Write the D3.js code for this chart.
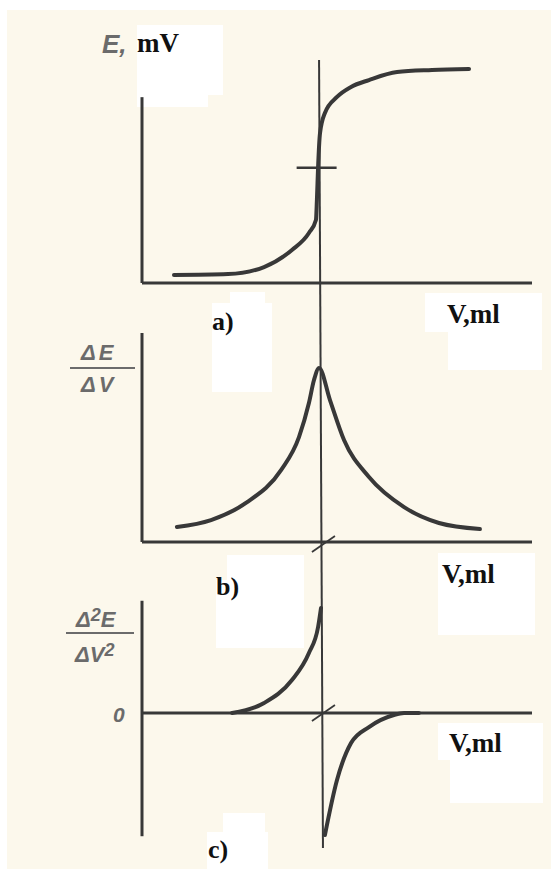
<!DOCTYPE html>
<html>
<head>
<meta charset="utf-8">
<script src="https://cdn.jsdelivr.net/npm/d3@7"></script>
<style>
  html, body { margin: 0; padding: 0; background: #ffffff; }
  svg { display: block; }
</style>
</head>
<body>
<svg id="chart" width="551" height="869"></svg>
<script>
// Titration curves: volume of titrant (ml) against potential and its derivatives.

// a) potential E (mV) versus added volume V (ml)
const volA = [1.64, 4.41, 6.26, 7.69, 8.56, 8.92, 8.97, 9.03, 9.13, 9.38, 10.0, 10.72, 11.64, 13.08, 14.87, 16.77];
const potA = [4.3, 4.8, 8.6, 17.8, 26.9, 33.9, 44.7, 62.4, 80.7, 91.5, 100.1, 105.5, 109.2, 113.5, 114.6, 115.2];

// b) first derivative dE/dV
const volB = [1.79, 3.54, 5.33, 7.13, 8.05, 8.56, 8.82, 9.08, 9.64, 10.36, 11.64, 13.44, 15.23, 17.33];
const derB = [7.2, 10.5, 18.7, 34.4, 50.2, 66.5, 77.5, 83.3, 67.9, 48.8, 31.1, 16.7, 9.1, 6.2];

// c) second derivative, two branches on each side of the end point
const volC1 = [4.62, 6.26, 7.69, 8.56, 9.03, 9.18];
const derC1 = [0, 8.2, 27.0, 49.2, 70.5, 86.1];
const volC2 = [9.38, 10.0, 10.72, 11.64, 12.92, 13.44, 14.2];
const derC2 = [-100, -54.9, -24.6, -11.5, -1.6, 0, 0];

// equivalence point and the inflection mark on curve a
const eqVolTop = 9.08, eqVolBottom = 9.28;
const inflectionE = 62;

// axis texts
const yLabelsA = ["E,", "mV"];
const yLabelB = ["ΔE", "ΔV"];
const yLabelC = ["Δ", "2", "E", "ΔV", "2"];
const xLabel = "V,ml";
const panelTags = ["a)", "b)", "c)"];
const zeroLabel = "0";

const svg = d3.select("#chart");
const ink = "#383838";
const grey = "#6b6b6b";

// paper
svg.append("rect").attr("x", 7).attr("y", 10).attr("width", 544).attr("height", 859).attr("fill", "#fcf8ec");

// shared horizontal scale (ml)
const x = d3.scaleLinear().domain([0, 20]).range([142, 532]);

// vertical scales of the three panels
const yA = d3.scaleLinear().domain([0, 120]).range([283, 60]);
const yB = d3.scaleLinear().domain([0, 100]).range([542, 333]);
const yC = d3.scaleLinear().domain([-100, 100]).range([835, 591]);

// white label patches
const patches = [
  [137, 25, 86, 70], [137, 25, 71, 82],
  [230, 292, 35, 12], [212, 303, 60, 89],
  [425, 293, 117, 39], [448, 293, 94, 77],
  [227, 555, 77, 25], [216, 580, 88, 68],
  [438, 553, 97, 82],
  [438, 723, 105, 37], [450, 723, 93, 80],
  [223, 813, 42, 56], [207, 832, 61, 37]
];
svg.append("g").selectAll("rect").data(patches).join("rect")
  .attr("x", d => d[0]).attr("y", d => d[1])
  .attr("width", d => d[2]).attr("height", d => d[3])
  .attr("fill", "#ffffff");

function axes(yScale, yMin, yMax, yBase) {
  const g = svg.append("g").attr("stroke", ink).attr("stroke-width", 3).attr("fill", "none");
  g.append("line").attr("x1", x(0)).attr("x2", x(0)).attr("y1", yScale(yMin)).attr("y2", yScale(yMax));
  g.append("line").attr("x1", x(0)).attr("x2", x(20)).attr("y1", yScale(yBase)).attr("y2", yScale(yBase));
}
axes(yA, 0, 100, 0);
axes(yB, 0, 100, 0);
axes(yC, -101, 92, 0);

// equivalence-point vertical line through all panels
svg.append("line")
  .attr("x1", x(eqVolTop)).attr("y1", yA(120))
  .attr("x2", x(eqVolBottom)).attr("y2", 848)
  .attr("stroke", ink).attr("stroke-width", 2);

// inflection mark on curve a
svg.append("line")
  .attr("x1", x(eqVolTop - 1.15)).attr("x2", x(eqVolTop + 0.9))
  .attr("y1", yA(inflectionE)).attr("y2", yA(inflectionE))
  .attr("stroke", ink).attr("stroke-width", 2.5);

// small slashes where the end point crosses the V axis
function slash(yScale, yVal) {
  const cx = x(eqVolTop + 0.2), cy = yScale(yVal);
  svg.append("line")
    .attr("x1", cx - 11).attr("y1", cy + 8).attr("x2", cx + 12).attr("y2", cy - 8)
    .attr("stroke", ink).attr("stroke-width", 1.8);
}
slash(yB, -1);
slash(yC, 0);

function curve(vols, vals, yScale) {
  const pts = vols.map((v, i) => [v, vals[i]]);
  svg.append("path")
    .datum(pts)
    .attr("d", d3.line().x(d => x(d[0])).y(d => yScale(d[1])).curve(d3.curveMonotoneX))
    .attr("fill", "none").attr("stroke", ink).attr("stroke-width", 4)
    .attr("stroke-linecap", "round").attr("stroke-linejoin", "round");
}
curve(volA, potA, yA);
curve(volB, derB, yB);
curve(volC1, derC1, yC);
curve(volC2, derC2, yC);

// texts
const serif = "'Liberation Serif', 'Times New Roman', serif";
const sans = "'Liberation Sans', Arial, sans-serif";

function boldText(t, px, py, size) {
  svg.append("text").attr("x", px).attr("y", py).text(t)
    .attr("font-family", serif).attr("font-weight", "bold")
    .attr("font-size", size).attr("fill", "#111");
}
function italicText(px, py, size) {
  return svg.append("text").attr("x", px).attr("y", py)
    .attr("font-family", sans).attr("font-style", "italic").attr("font-weight", "bold")
    .attr("font-size", size).attr("fill", grey);
}

italicText(102, 53, 26).text(yLabelsA[0]);
boldText(yLabelsA[1], 137, 52, 27);

boldText(panelTags[0], 212, 330, 26);
boldText(panelTags[1], 216, 595, 26);
boldText(panelTags[2], 208, 858, 26);

boldText(xLabel, 447, 323, 27);
boldText(xLabel, 442, 583, 27);
boldText(xLabel, 449, 752, 27);

// dE/dV fraction
italicText(81, 360, 22).attr("letter-spacing", 3).text(yLabelB[0]);
italicText(81, 392, 22).attr("letter-spacing", 3).text(yLabelB[1]);
svg.append("line").attr("x1", 70).attr("x2", 135).attr("y1", 368).attr("y2", 368)
  .attr("stroke", grey).attr("stroke-width", 2);

// d2E/dV2 fraction
const num = italicText(76, 627, 22);
num.append("tspan").text(yLabelC[0]);
num.append("tspan").attr("font-size", 18).attr("dy", -6).text(yLabelC[1]);
num.append("tspan").attr("dy", 6).text(yLabelC[2]);
const den = italicText(75, 662, 22);
den.append("tspan").text(yLabelC[3]);
den.append("tspan").attr("font-size", 18).attr("dy", -6).text(yLabelC[4]);
svg.append("line").attr("x1", 66).attr("x2", 134).attr("y1", 633).attr("y2", 633)
  .attr("stroke", grey).attr("stroke-width", 2);

italicText(113, 722, 21).text(zeroLabel);
</script>
</body>
</html>
